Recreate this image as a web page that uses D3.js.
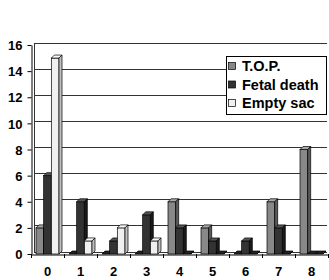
<!DOCTYPE html>
<html><head><meta charset="utf-8">
<script src="https://cdnjs.cloudflare.com/ajax/libs/d3/7.8.5/d3.min.js"></script>
<style>
html,body{margin:0;padding:0;background:#fff;}
svg{display:block;}
text{font-family:"Liberation Sans",Arial,sans-serif;font-weight:bold;fill:#000;}
</style></head>
<body>
<script>
const categories = ["0","1","2","3","4","5","6","7","8"];
const seriesNames = ["T.O.P.","Fetal death","Empty sac"];
const topValues   = [2,0,0,0,4,2,0,4,8];
const fetalValues = [6,4,1,3,2,1,1,2,0];
const emptyValues = [15,1,2,1,0,0,0,0,0];
const yTicks = [0,2,4,6,8,10,12,14,16];

const W = 329, H = 280;
const colors = {
  "T.O.P.":      {front:"#888888", top:"#a8a8a8", side:"#5a5a5a"},
  "Fetal death": {front:"#333333", top:"#555555", side:"#1a1a1a"},
  "Empty sac":   {front:"#f0f0f0", top:"#fafafa", side:"#c0c0c0"}
};
const seriesData = [topValues, fetalValues, emptyValues];

const svg = d3.select("body").append("svg").attr("width", W).attr("height", H);

const left = 31, right = 328;
const y = d3.scaleLinear().domain([0,16]).range([254,45]);
const x0 = d3.scaleBand().domain(categories).range([left,right]).padding(0);
const x1 = d3.scaleBand().domain(seriesNames).range([5, 28]).padding(0);
const dx = 3, dy = 3;

// back wall gridlines
svg.append("g").selectAll("line").data(yTicks).join("line")
  .attr("x1", left+dx).attr("x2", right-1)
  .attr("y1", d=>y(d)-dy+1).attr("y2", d=>y(d)-dy+1)
  .attr("stroke", "#333").attr("stroke-width", 1).attr("shape-rendering","crispEdges");
// back wall left edge
svg.append("line").attr("x1", left+dx).attr("x2", left+dx)
  .attr("y1", y(16)-dy+1).attr("y2", y(0)-dy+1)
  .attr("stroke","#333").attr("shape-rendering","crispEdges");

// y axis (left wall front edge)
const yAxis = d3.axisLeft(y).tickValues(yTicks).tickSize(4).tickPadding(5).tickSizeOuter(0);
const gy = svg.append("g").attr("transform", `translate(${left+0.5},0)`).call(yAxis);
gy.select(".domain").attr("stroke","#000");
gy.selectAll(".tick line").attr("stroke","#000");
gy.selectAll("text").style("font-size","13px").style("font-weight","bold").attr("dy","0.36em");

// bars
const g = svg.append("g");
categories.forEach((c,i)=>{
  seriesNames.forEach((s,j)=>{
    const v = seriesData[j][i];
    const x = x0(c) + x1(s);
    const w = x1.bandwidth();
    const yt = y(v), yb = y(0);
    const col = colors[s];
    if (v > 0) {
      g.append("rect").attr("x", x).attr("y", yt).attr("width", w).attr("height", yb-yt)
        .attr("fill", col.front).attr("stroke","#000").attr("stroke-width",0.7);
    }
    g.append("path").attr("d", `M${x},${yt}L${x+dx},${yt-dy}L${x+w+dx},${yt-dy}L${x+w},${yt}Z`)
      .attr("fill", v>0?col.top:"#222").attr("stroke","#000").attr("stroke-width",0.7);
    g.append("path").attr("d", `M${x+w},${yt}L${x+w+dx},${yt-dy}L${x+w+dx},${yb-dy}L${x+w},${yb}Z`)
      .attr("fill", v>0?col.side:"#222").attr("stroke","#000").attr("stroke-width",0.7);
  });
});

// x axis
const xAxis = d3.axisBottom(x0).tickSize(0).tickPadding(12);
const gx = svg.append("g").attr("transform", `translate(0,${y(0)+0.5})`).call(xAxis);
gx.select(".domain").attr("stroke","#000");
gx.selectAll("text").style("font-size","13px").style("font-weight","bold");
// tick marks between categories
svg.append("g").selectAll("line").data(d3.range(categories.length+1)).join("line")
  .attr("x1", d=>Math.round(left + d*x0.step())+0.5).attr("x2", d=>Math.round(left + d*x0.step())+0.5)
  .attr("y1", y(0)).attr("y2", y(0)+4).attr("stroke","#000");

// legend
const lg = svg.append("g");
lg.append("rect").attr("x",226.5).attr("y",56.5).attr("width",100).attr("height",58)
  .attr("fill","#fff").attr("stroke","#000");
const rowY = [66, 84.5, 103];
seriesNames.forEach((s,j)=>{
  lg.append("rect").attr("x",228.5).attr("y",rowY[j]-3.5).attr("width",7).attr("height",7)
    .attr("fill", colors[s].front).attr("stroke","#000").attr("stroke-width",0.7);
  lg.append("text").attr("x",242).attr("y",rowY[j]).attr("dy","0.36em")
    .style("font-size","14.5px").style("font-weight","bold")
    .style("font-family","'Liberation Sans', Arial, sans-serif").text(s);
});
</script>
</body></html>
